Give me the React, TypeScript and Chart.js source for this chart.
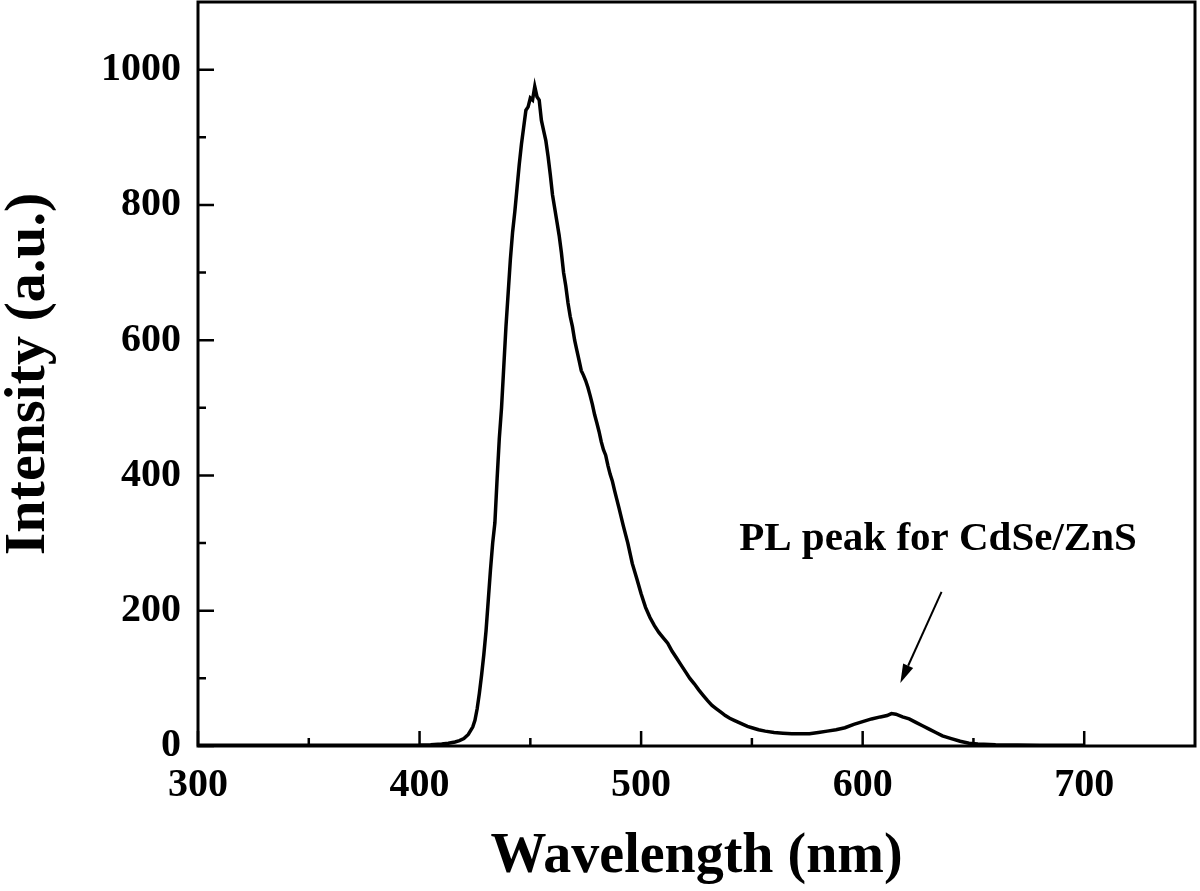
import { useEffect, useRef } from "react";
import { Chart, registerables } from "chart.js";

Chart.register(...registerables);

// Wavelength (nm) and PL intensity (a.u.)
const wavelength = [
  300, 320, 340, 360, 380, 400, 405, 410, 413, 416, 418, 420, 422, 424, 425, 426, 427, 428, 429, 430,
  431, 432, 433, 434, 435, 436, 437, 438, 439, 440, 441, 442, 443, 444, 445, 446, 447, 448, 449, 450,
  451, 452, 453, 454, 455, 456, 457, 458, 459, 460, 461, 462, 463, 464, 465, 466, 467, 468, 469, 470,
  471, 472, 473, 474, 475, 476, 477, 478, 479, 480, 481, 482, 483, 484, 485, 486, 487, 488, 489, 490,
  492, 494, 496, 498, 500, 502, 504, 506, 508, 510, 512, 514, 516, 518, 520, 522, 524, 526, 528, 530,
  532, 534, 536, 538, 540, 542, 544, 546, 548, 550, 553, 556, 560, 564, 568, 572, 576, 580, 584, 588,
  592, 596, 600, 604, 608, 611, 613, 615, 618, 621, 624, 627, 630, 633, 636, 640, 644, 648, 652, 660,
  680, 700,
];
const intensity = [
  1, 1, 1, 1, 1, 1.5, 2, 3, 4, 6, 8, 11, 17, 28, 38, 55, 78, 105, 135, 170,
  215, 260, 300, 330, 395, 455, 500, 560, 620, 670, 720, 760, 790, 825, 860, 890, 915, 940, 945, 958,
  955, 975, 960, 955, 925, 910, 895, 872, 845, 815, 795, 775, 755, 730, 700, 680, 655, 635, 620, 600,
  585, 570, 555, 548, 540, 530, 518, 505, 490, 478, 465, 450, 438, 430, 415, 402, 392, 378, 365, 352,
  325, 300, 270, 248, 225, 205, 190, 178, 168, 160, 152, 140, 130, 120, 110, 100, 92, 83, 75, 67,
  60, 55, 50, 45, 41, 38, 35, 32, 29, 27, 24, 22, 20, 19, 18, 18, 18, 20, 22, 24,
  27, 32, 36, 40, 43, 45, 48, 47, 43, 40, 35, 30, 25, 20, 15, 11, 7, 4, 3, 2,
  1, 1,
];

const xMajorTicks = [300, 400, 500, 600, 700];
const xMinorTicks = [350, 450, 550, 650];
const yMajorTicks = [0, 200, 400, 600, 800, 1000];
const yMinorTicks = [100, 300, 500, 700, 900];

const xTitle = "Wavelength (nm)";
const yTitle = "Intensity (a.u.)";

const annotationText = "PL peak for CdSe/ZnS";
const annotationTextAt = [634, 290]; // [nm, intensity] of text baseline centre
const arrowFrom = [635.6, 228];
const arrowTo = [617, 93];

const FONT = "'Liberation Serif', 'Times New Roman', serif";

const framePlugin = {
  id: "frameTicks",
  afterDatasetsDraw(chart: any) {
    const { ctx, chartArea } = chart;
    const xs = chart.scales.x;
    const ys = chart.scales.y;
    const { left, right, top, bottom } = chartArea;
    ctx.save();
    ctx.strokeStyle = "#000";
    ctx.lineWidth = 3;
    ctx.strokeRect(left, top, right - left, bottom - top);
    ctx.lineWidth = 2.5;
    ctx.beginPath();
    for (const v of xMajorTicks) {
      const px = xs.getPixelForValue(v);
      ctx.moveTo(px, bottom);
      ctx.lineTo(px, bottom - 15);
    }
    for (const v of xMinorTicks) {
      const px = xs.getPixelForValue(v);
      ctx.moveTo(px, bottom);
      ctx.lineTo(px, bottom - 8);
    }
    for (const v of yMajorTicks) {
      const py = ys.getPixelForValue(v);
      ctx.moveTo(left, py);
      ctx.lineTo(left + 16, py);
    }
    for (const v of yMinorTicks) {
      const py = ys.getPixelForValue(v);
      ctx.moveTo(left, py);
      ctx.lineTo(left + 8, py);
    }
    ctx.stroke();

    // annotation text
    ctx.fillStyle = "#000";
    ctx.font = `bold 41px ${FONT}`;
    ctx.textAlign = "center";
    ctx.textBaseline = "alphabetic";
    ctx.fillText(
      annotationText,
      xs.getPixelForValue(annotationTextAt[0]),
      ys.getPixelForValue(annotationTextAt[1])
    );

    // arrow
    const x1 = xs.getPixelForValue(arrowFrom[0]);
    const y1 = ys.getPixelForValue(arrowFrom[1]);
    const x2 = xs.getPixelForValue(arrowTo[0]);
    const y2 = ys.getPixelForValue(arrowTo[1]);
    const ang = Math.atan2(y2 - y1, x2 - x1);
    const headLen = 19;
    const headHalf = 5.5;
    const bx = x2 - headLen * Math.cos(ang);
    const by = y2 - headLen * Math.sin(ang);
    ctx.lineWidth = 2;
    ctx.beginPath();
    ctx.moveTo(x1, y1);
    ctx.lineTo(bx, by);
    ctx.stroke();
    ctx.beginPath();
    ctx.moveTo(x2, y2);
    ctx.lineTo(bx + headHalf * Math.sin(ang), by - headHalf * Math.cos(ang));
    ctx.lineTo(bx - headHalf * Math.sin(ang), by + headHalf * Math.cos(ang));
    ctx.closePath();
    ctx.fill();
    ctx.restore();
  },
};

export default function App() {
  const canvasRef = useRef<HTMLCanvasElement | null>(null);

  useEffect(() => {
    if (!canvasRef.current) return;
    const chart = new Chart(canvasRef.current, {
      type: "line",
      data: {
        datasets: [
          {
            data: wavelength.map((w, i) => ({ x: w, y: intensity[i] })),
            borderColor: "#000",
            borderWidth: 3.5,
            pointRadius: 0,
            tension: 0,
            fill: false,
          },
        ],
      },
      options: {
        animation: false,
        responsive: true,
        maintainAspectRatio: false,
        layout: { padding: { top: 2, right: 5, left: 0, bottom: 0 } },
        plugins: {
          legend: { display: false },
          tooltip: { enabled: false },
        },
        scales: {
          x: {
            type: "linear",
            min: 300,
            max: 750,
            grid: { display: false, drawTicks: false },
            border: { display: false },
            ticks: {
              stepSize: 100,
              includeBounds: false,
              padding: 16,
              color: "#000",
              font: { family: FONT, size: 40, weight: "bold" },
              maxRotation: 0,
              callback: (v: any) => String(v),
            },
            title: {
              display: true,
              text: xTitle,
              color: "#000",
              font: { family: FONT, size: 56, weight: "bold", lineHeight: 1 },
              padding: { top: 0, bottom: 5 },
            },
            afterFit(scale: any) {
              scale.height = 145;
              scale.paddingLeft = 0;
              scale.paddingRight = 0;
            },
          },
          y: {
            type: "linear",
            min: 0,
            max: 1100,
            grid: { display: false, drawTicks: false },
            border: { display: false },
            ticks: {
              stepSize: 200,
              includeBounds: false,
              padding: 17,
              color: "#000",
              font: { family: FONT, size: 40, weight: "bold" },
              callback: (v: any) => String(v),
            },
            title: {
              display: true,
              text: yTitle,
              color: "#000",
              font: { family: FONT, size: 58, weight: "bold", lineHeight: 1 },
              padding: { top: 0, bottom: 0 },
            },
            afterFit(scale: any) {
              scale.width = 198;
              scale.paddingTop = 0;
              scale.paddingBottom = 0;
            },
          },
        },
      },
      plugins: [framePlugin],
    } as any);
    return () => chart.destroy();
  }, []);

  return (
    <div style={{ position: "fixed", left: 0, top: 0, width: 1200, height: 891, background: "#fff" }}>
      <canvas ref={canvasRef} />
    </div>
  );
}
